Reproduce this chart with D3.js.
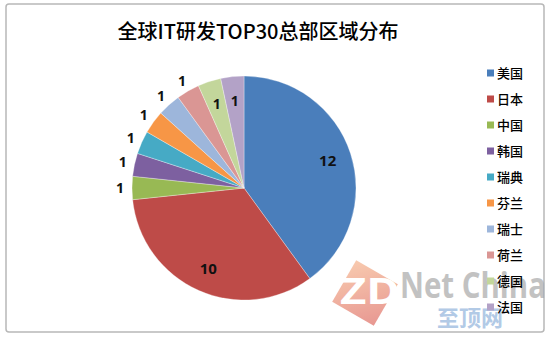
<!DOCTYPE html>
<html>
<head>
<meta charset="UTF-8">
<title>全球IT研发TOP30总部区域分布</title>
<script src="https://cdn.jsdelivr.net/npm/d3@7"></script>
<style>
    body { margin: 0; background: #fff; }
    svg { display: block; }
</style>
</head>
<body>
<div id="chart"></div>
<script>
    // data
    var countries = ["美国", "日本", "中国", "韩国", "瑞典", "芬兰", "瑞士", "荷兰", "德国", "法国"];
    var counts = [12, 10, 1, 1, 1, 1, 1, 1, 1, 1];
    var colours = ["#4A7EBB", "#BE4B48", "#98B954", "#7D60A0", "#46AAC5", "#F79646",
                   "#9DB6DB", "#DA9694", "#C3D69B", "#B3A2C7"];
    // labels that sit inside the slice (the rest go just outside)
    var insideLabels = ["美国", "日本", "德国", "法国"];

    var W = 550, H = 338;
    var cx = 244, cy = 188, r = 112;

    var svg = d3.select("#chart").append("svg")
        .attr("width", W)
        .attr("height", H);

    // outer frame
    svg.append("rect")
        .attr("x", 6).attr("y", 4)
        .attr("width", 538).attr("height", 328)
        .attr("rx", 3)
        .attr("fill", "#fff")
        .attr("stroke", "#B8B8B8")
        .attr("stroke-width", 1.5);

    // title
    svg.append("text")
        .attr("x", 258).attr("y", 39)
        .attr("text-anchor", "middle")
        .style("font-family", "'Noto Sans CJK SC', sans-serif")
        .style("font-size", "20px")
        .style("font-weight", 500)
        .style("fill", "#000")
        .text("全球IT研发TOP30总部区域分布");

    var pie = d3.pie().sort(null).value(d => d.value);
    var arcs = pie(countries.map((c, i) => ({ name: c, value: counts[i] })));

    var arc = d3.arc().innerRadius(0).outerRadius(r);
    var inArc = d3.arc().innerRadius(88).outerRadius(88);
    var outArc = d3.arc().innerRadius(124).outerRadius(124);

    var g = svg.append("g").attr("transform", "translate(" + cx + "," + cy + ")");

    g.selectAll("path")
        .data(arcs)
        .join("path")
        .attr("d", arc)
        .attr("fill", (d, i) => colours[i])
        .attr("stroke", "rgba(255,255,255,0.45)")
        .attr("stroke-width", 0.7);

    g.selectAll("text.lbl")
        .data(arcs)
        .join("text")
        .attr("class", "lbl")
        .attr("transform", d => {
            var p = insideLabels.indexOf(d.data.name) >= 0 ? inArc.centroid(d) : outArc.centroid(d);
            return "translate(" + p + ")";
        })
        .attr("text-anchor", "middle")
        .attr("dy", "0.36em")
        .style("font-family", "'Open Sans', sans-serif")
        .style("font-weight", "bold")
        .style("font-size", d => d.value > 1 ? "15px" : "14px")
        .style("fill", "#111")
        .text(d => d.value);

    // watermark
    var wm = svg.append("g").attr("opacity", 0.6);
    var grad = svg.append("defs").append("linearGradient")
        .attr("id", "zd").attr("x1", 0).attr("y1", 0).attr("x2", 1).attr("y2", 1);
    grad.append("stop").attr("offset", 0).attr("stop-color", "#F4A77A");
    grad.append("stop").attr("offset", 1).attr("stop-color", "#D9544A");
    wm.append("rect")
        .attr("x", -24).attr("y", -24).attr("width", 48).attr("height", 48)
        .attr("transform", "translate(365,293) rotate(30)")
        .attr("fill", "url(#zd)");
    wm.append("text")
        .attr("x", 340).attr("y", 304)
        .attr("textLength", 60)
        .attr("lengthAdjust", "spacingAndGlyphs")
        .style("font-family", "'Open Sans', sans-serif")
        .style("font-weight", "bold")
        .style("font-size", "36px")
        .style("fill", "#fff")
        .text("ZD");
    wm.append("text")
        .attr("x", 400).attr("y", 298)
        .attr("textLength", 146)
        .attr("lengthAdjust", "spacingAndGlyphs")
        .style("font-family", "'Open Sans', sans-serif")
        .style("font-weight", "bold")
        .style("font-size", "36px")
        .style("fill", "#9A9A9A")
        .text("Net China");
    wm.append("text")
        .attr("x", 437).attr("y", 326)
        .style("font-family", "'Noto Sans CJK SC', sans-serif")
        .style("font-weight", "bold")
        .style("font-size", "22px")
        .style("fill", "#7FA7D6")
        .text("至顶网");

    // legend
    var legend = svg.append("g").selectAll("g")
        .data(countries)
        .join("g")
        .attr("transform", (d, i) => "translate(487," + (73 + i * 26) + ")");
    legend.append("rect")
        .attr("x", 0).attr("y", -3.5)
        .attr("width", 7).attr("height", 7)
        .attr("fill", (d, i) => colours[i]);
    legend.append("text")
        .attr("x", 10).attr("dy", "0.36em")
        .style("font-family", "'Noto Sans CJK SC', sans-serif")
        .style("font-size", "13px")
        .style("font-weight", 500)
        .style("fill", "#000")
        .text(d => d);
</script>
</body>
</html>
